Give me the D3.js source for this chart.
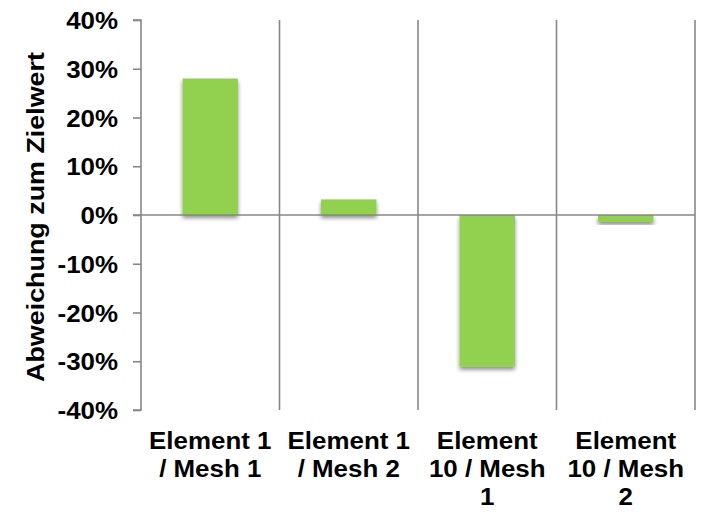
<!DOCTYPE html>
<html><head><meta charset="utf-8">
<script src="https://cdn.jsdelivr.net/npm/d3@7"></script>
<style>
html,body{margin:0;padding:0;background:#fff;}
text{font-family:"Liberation Sans",Arial,sans-serif;font-weight:bold;fill:#000;}
</style></head>
<body>
<svg id="c" width="712" height="515"></svg>
<script>
const categories = ["Element 1 / Mesh 1", "Element 1 / Mesh 2", "Element 10 / Mesh 1", "Element 10 / Mesh 2"];
const values = [0.28, 0.032, -0.311, -0.014];
const yTicks = [-0.4, -0.3, -0.2, -0.1, 0, 0.1, 0.2, 0.3, 0.4];
const yTitle = "Abweichung zum Zielwert";

(function () {
const svg = d3.select("#c");
const pLeft = 141, pRight = 695, pTop = 20, pBottom = 410;
const gridColor = "#878787";
const fs = 24, sx = 1.08;

const defs = svg.append("defs");
const f = defs.append("filter").attr("id","sh").attr("x","-20%").attr("y","-20%").attr("width","140%").attr("height","160%");
f.append("feDropShadow").attr("dx",0).attr("dy",3).attr("stdDeviation",2.2)
  .attr("flood-color","#000").attr("flood-opacity",0.45);

const x = d3.scaleBand().domain(categories).range([pLeft, pRight]).paddingInner(0.6).paddingOuter(0.3);
const y = d3.scaleLinear().domain([-0.4, 0.4]).range([pBottom, pTop]);

// vertical category separators
const step = x.step();
const bounds = d3.range(categories.length + 1).map(i => pLeft + i * step);
svg.append("g").selectAll("line").data(bounds.slice(1)).join("line")
  .attr("x1", d => d).attr("x2", d => d).attr("y1", pTop).attr("y2", pBottom)
  .attr("stroke", gridColor).attr("stroke-width", 1.6);

// y axis
const pct = d => Math.round(d * 100) + "%";
const yAxis = svg.append("g").attr("transform", `translate(${pLeft},0)`)
  .call(d3.axisLeft(y).tickValues(yTicks).tickSize(8).tickPadding(15).tickFormat(pct));
yAxis.select(".domain").attr("stroke", gridColor).attr("stroke-width", 1.6).attr("d", `M-8,${pBottom}H0V${pTop}H-8`);
yAxis.selectAll(".tick line").attr("stroke", gridColor).attr("stroke-width", 1.6);
yAxis.selectAll(".tick text").attr("font-size", fs).attr("font-family", null).attr("fill", "#000")
  .attr("transform", `scale(${sx},1)`).attr("x", -23/sx).attr("dy", "0.36em");

// bars
svg.append("g").selectAll("rect").data(values).join("rect")
  .attr("x", (d, i) => x(categories[i]))
  .attr("width", x.bandwidth())
  .attr("y", d => y(Math.max(0, d)))
  .attr("height", d => Math.abs(y(d) - y(0)))
  .attr("fill", "#92D050")
  .attr("filter", "url(#sh)");

// zero line
svg.append("line").attr("x1", pLeft - 8).attr("x2", pRight).attr("y1", y(0)).attr("y2", y(0))
  .attr("stroke", gridColor).attr("stroke-width", 1.6);

// category labels with wrapping
function wrapLines(str, maxW) {
  const words = str.split(" ");
  const tmp = svg.append("text").attr("font-size", fs);
  const lines = []; let cur = "";
  for (const w of words) {
    const t = cur ? cur + " " + w : w;
    tmp.text(t);
    if (tmp.node().getComputedTextLength() * sx > maxW && cur) { lines.push(cur); cur = w; }
    else cur = t;
  }
  if (cur) lines.push(cur);
  tmp.remove();
  return lines;
}
categories.forEach(c => {
  const lines = wrapLines(c, 128);
  const cx = x(c) + x.bandwidth() / 2;
  const g = svg.append("g").attr("transform", `translate(${cx},449) scale(${sx},1)`);
  lines.forEach((l, i) => {
    g.append("text").attr("text-anchor", "middle").attr("font-size", fs).attr("y", i * 28).text(l);
  });
});

// y title
svg.append("text").attr("text-anchor", "middle").attr("font-size", fs)
  .attr("transform", `translate(44,217) rotate(-90) scale(1.12,1)`).text(yTitle);
})();
</script>
</body></html>
